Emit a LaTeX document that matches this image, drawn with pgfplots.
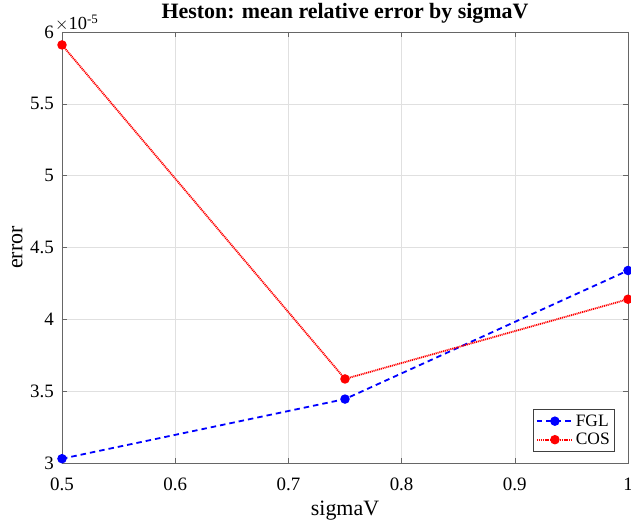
\documentclass[border=0pt]{standalone}
\usepackage{fontspec}
\setmainfont{Liberation Serif}
\usepackage{pgfplots}
\pgfplotsset{compat=1.18}
\begin{document}
\begin{tikzpicture}
\begin{axis}[
  name=ax,
  scale only axis,
  width=566bp, height=431bp,
  xmin=0.5, xmax=1, ymin=3e-5, ymax=6e-5,
  xtick={0.5,0.6,0.7,0.8,0.9,1},
  ytick={3e-5,3.5e-5,4e-5,4.5e-5,5e-5,5.5e-5,6e-5},
  scaled y ticks=base 10:5,
  ytick scale label code/.code={$\times$10\textsuperscript{#1}},
  every y tick scale label/.style={at={(rel axis cs:0,1)}, anchor=base west, inner sep=0bp, xshift=1bp, yshift=2.5bp, font=\fontsize{18.5}{20}\selectfont},
  /pgf/number format/assume math mode=true,
  tick label style={font=\fontsize{19}{22}\selectfont},
  xticklabel style={anchor=base, inner sep=0bp, yshift=-27bp},
  yticklabel style={anchor=east, inner sep=0bp, xshift=-8bp},
  tick align=inside,
  major tick length=5bp,
  axis line style={black!60, line width=0.6bp},
  every tick/.style={black!60, line width=0.6bp},
  grid=major,
  grid style={black!12, line width=0.6bp},
  title={Heston: mean relative error by sigmaV},
  title style={font=\bfseries\fontsize{22}{24}\selectfont, at={(axis description cs:0.5,1)}, anchor=base, inner sep=0bp, yshift=8bp},
  xlabel={sigmaV},
  ylabel={error},
  label style={font=\fontsize{22}{24}\selectfont},
  xlabel style={at={(axis description cs:0.5,0)}, anchor=base, inner sep=0bp, yshift=-52bp},
  ylabel style={at={([xshift=-39.5bp]axis description cs:0,0.5)}, anchor=base, inner sep=0bp},
  legend style={at={(rel axis cs:1,0)}, anchor=south east, xshift=-13bp, yshift=11bp,
    font=\fontsize{17.5}{19}\selectfont, draw=black!75, line width=0.6bp, inner xsep=3bp, inner ysep=3.5bp,
    row sep=1.5bp},
  legend cell align=left,
  legend image code/.code={\draw[mark repeat=2,mark phase=2,#1] plot coordinates {(0bp,0bp) (18bp,0bp) (36bp,0bp)};},
]
\addplot[blue, line width=1.8bp, dash pattern=on 5.5bp off 4bp, mark=*, mark size=3.8bp, mark options={solid, fill=blue}]
  coordinates {(0.5,3.03e-5) (0.75,3.445e-5) (1,4.34e-5)};
\addlegendentry{FGL}
\addplot[red, line width=1.8bp, dash pattern=on 1.1bp off 0.8bp, mark=*, mark size=3.8bp, mark options={solid, fill=red}]
  coordinates {(0.5,5.91e-5) (0.75,3.585e-5) (1,4.14e-5)};
\addlegendentry{COS}
\end{axis}
\pgfresetboundingbox
\path (ax.south west) ++(-62bp,-59bp) coordinate (bl);
\path (ax.north east) ++(3bp,32bp) coordinate (tr);
\path[use as bounding box] (bl) rectangle (tr);
\end{tikzpicture}
\end{document}
